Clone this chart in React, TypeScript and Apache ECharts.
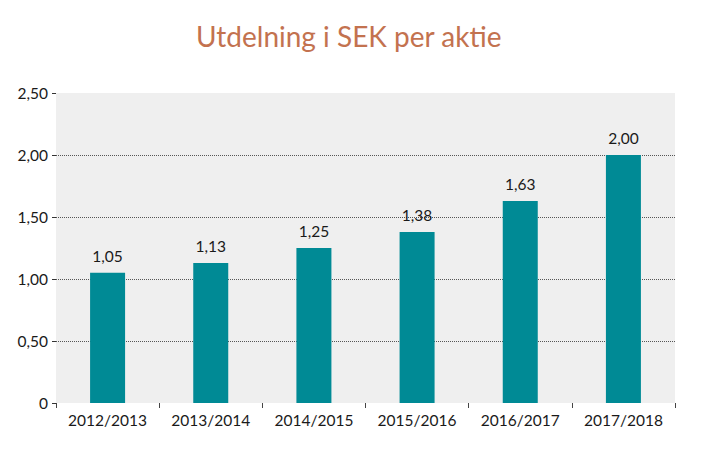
import React, { useEffect, useRef } from "react";
import * as echarts from "echarts";

const TITLE = "Utdelning i SEK per aktie";
const categories = ["2012/2013", "2013/2014", "2014/2015", "2015/2016", "2016/2017", "2017/2018"];
const values = [1.05, 1.13, 1.25, 1.38, 1.63, 2.0];
const yMin = 0;
const yMax = 2.5;
const yInterval = 0.5;

const fmt = (v: number) => (v === 0 ? "0" : v.toFixed(2).replace(".", ","));

export default function App() {
  const ref = useRef<HTMLDivElement>(null);
  useEffect(() => {
    if (!ref.current) return;
    const chart = echarts.init(ref.current, undefined, { renderer: "svg" });
    chart.setOption({
      animation: false,
      backgroundColor: "#ffffff",
      textStyle: { fontFamily: "Lato" },
      title: {
        text: TITLE,
        left: 191,
        top: 17,
        textStyle: { color: "#c3724f", fontSize: 28, fontWeight: "normal", fontFamily: "Lato" },
      },
      grid: {
        left: 56,
        top: 93,
        width: 619,
        height: 310,
        show: true,
        backgroundColor: "#efefef",
        borderWidth: 0,
      },
      xAxis: {
        type: "category",
        data: categories,
        axisLine: { show: false },
        axisTick: { show: true, length: 5, lineStyle: { color: "#444" } },
        axisLabel: { color: "#1a1a1a", fontSize: 15.5, margin: 9, fontFamily: "Lato" },
      },
      yAxis: {
        type: "value",
        min: yMin,
        max: yMax,
        interval: yInterval,
        axisLine: { show: false },
        axisTick: { show: true, length: 4, lineStyle: { color: "#333" } },
        axisLabel: { color: "#1a1a1a", fontSize: 15.5, margin: 8, formatter: (v: number) => fmt(v), fontFamily: "Lato" },
        splitLine: {
          show: true,
          showMinLine: false,
          showMaxLine: false,
          lineStyle: { color: "#555", type: "dotted", width: 1 },
        },
      },
      series: [
        {
          type: "bar",
          data: values,
          barWidth: 35,
          itemStyle: { color: "#008a95" },
          label: {
            show: true,
            position: "top",
            distance: 9,
            color: "#1a1a1a",
            fontSize: 15.5,
            fontFamily: "Lato",
            formatter: (p: any) => fmt(p.value),
          },
        },
      ],
    });
    return () => chart.dispose();
  }, []);
  return <div ref={ref} style={{ position: "fixed", left: 0, top: 0, width: 723, height: 465 }} />;
}
